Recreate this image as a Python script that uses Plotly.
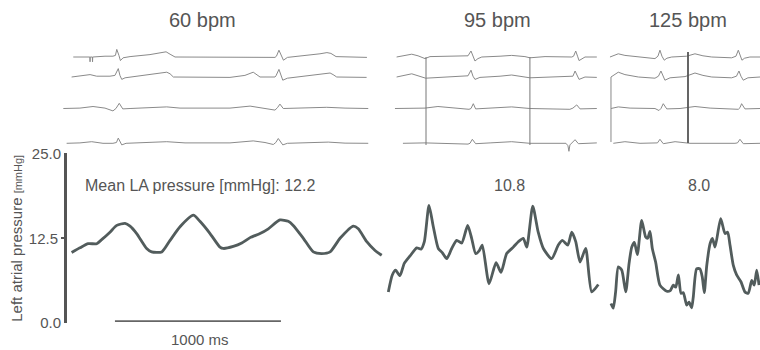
import plotly.graph_objects as go

# ---------------- data (ms, mmHg, mV) ----------------
heart_rates_bpm = [60, 95, 125]
mean_la_pressure = [12.2, 10.8, 8.0]

# Left atrial pressure traces (time in ms from panel start, mmHg)
p1_t = [70, 120, 170, 221, 251, 301, 342, 392, 422, 462, 522, 552, 613, 663, 723, 803, 843, 904, 964, 984,
        1044, 1095, 1145, 1205, 1255, 1325, 1375, 1405, 1466, 1526, 1576, 1627, 1687, 1767, 1797, 1848, 1898, 1938]
p1_p = [10.4, 11.1, 11.7, 11.7, 12.3, 13.4, 14.4, 14.7, 14.3, 13.2, 11.0, 10.5, 10.5, 12.2, 14.2, 15.9, 15.0, 13.2, 11.2, 11.0,
        11.3, 11.8, 12.6, 13.2, 13.9, 15.2, 15.0, 14.4, 12.5, 10.5, 10.25, 10.5, 12.5, 14.3, 13.9, 12.0, 10.7, 10.0]

p2_t = [20, 44, 64, 90, 116, 151, 191, 217, 237, 265, 291, 321, 345, 372, 402, 432, 462, 498, 522, 546,
        568, 586, 627, 669, 699, 733, 773, 803, 833, 854, 890, 923, 954, 1004, 1044, 1068, 1101, 1125, 1149, 1175,
        1209, 1245, 1285]
p2_p = [4.6, 7.1, 7.8, 7.0, 8.8, 9.9, 11.1, 10.9, 12.0, 17.35, 14.2, 11.0, 10.4, 9.5, 11.0, 12.2, 11.8, 14.4, 12.5, 10.25,
        10.7, 11.5, 5.8, 8.9, 7.5, 10.25, 11.2, 12.0, 12.5, 11.2, 17.25, 13.4, 11.0, 9.5, 11.5, 12.2, 11.5, 13.4, 12.0, 9.0,
        11.0, 4.6, 5.7]

p3_t = [36, 50, 64, 80, 101, 125, 145, 161, 177, 195, 221, 245, 257, 271, 285, 305, 331, 372, 393, 411,
        426, 442, 458, 472, 492, 506, 522, 532, 552, 572, 586, 598, 613, 633, 647, 663, 697, 723, 739, 753,
        773, 793, 819, 843, 863, 884, 899, 914, 928]
p3_p = [2.9, 2.2, 4.6, 8.3, 7.8, 4.6, 8.8, 11.2, 11.9, 10.1, 15.15, 12.7, 12.5, 13.5, 11.0, 9.0, 5.6, 4.7, 4.8, 5.6,
        5.3, 7.1, 4.4, 4.5, 2.65, 3.1, 2.25, 3.9, 8.0, 8.0, 6.8, 4.5, 8.5, 11.7, 12.5, 11.2, 15.4, 13.2, 13.4, 11.5,
        8.5, 7.1, 6.1, 4.6, 4.4, 6.3, 5.6, 7.8, 5.6]

# ECG leads (time in ms from panel start, mV)
p1_l1_t = [80, 151, 180, 181, 182, 195, 196, 197, 271, 319, 334, 342, 355, 364, 380, 422, 542, 614, 639, 663, 693,
           1295, 1304, 1319, 1334, 1346, 1370, 1446, 1566, 1608, 1632, 1663, 1849]
p1_l1_v = [0, 0.05, 0, -0.6, 0, 0, -0.6, 0, 0.1, 0.1, 0.2, 0.95, 0.2, -0.45, -0.1, 0.05, 0.3, 0.6, 0.65, 0.35, 0,
           -0.05, 0.1, 0.85, 0.1, -0.4, -0.05, 0.1, 0.4, 0.55, 0.45, 0.05, -0.05]
p1_l2_t = [70, 120, 181, 221, 301, 331, 351, 361, 372, 392, 482, 602, 643, 663, 683, 1024, 1114, 1164, 1205, 1295,
           1301, 1319, 1331, 1342, 1370, 1446, 1566, 1627, 1645, 1667, 1847]
p1_l2_v = [0, 0.1, 0.3, 0.1, 0.1, 0.2, 1.05, 0.2, -0.3, -0.1, 0.15, 0.45, 0.6, 0.4, 0, -0.05, 0.2, 0.6, 0, 0,
           0.15, 0.95, 0.1, -0.4, -0.15, 0.05, 0.35, 0.5, 0.3, 0, -0.05]
p1_l3_t = [20, 120, 199, 271, 319, 337, 357, 378, 422, 542, 643, 723, 1024, 1145, 1217, 1295, 1310, 1325, 1345, 1446,
           1607, 1717, 1857]
p1_l3_v = [0, 0.05, 0.25, 0.05, -0.3, 0, 0.65, -0.05, 0, 0.1, 0.2, 0.05, 0.05, 0.3, 0.1, -0.2, 0.1, 0.55, 0, 0.05,
           0.15, 0.05, 0]
p1_l4_t = [40, 120, 191, 259, 319, 340, 351, 372, 398, 512, 643, 753, 1024, 1164, 1235, 1285, 1300, 1315, 1342, 1370,
           1616, 1717, 1857]
p1_l4_v = [0, 0.05, 0.2, 0, 0, 0.1, 0.65, -0.2, 0, 0.05, 0.2, 0.05, 0.05, 0.3, 0.1, -0.15, 0.1, 0.6, -0.2, 0,
           0.15, 0.02, 0]

p2_l1_t = [70, 161, 199, 241, 271, 392, 482, 500, 518, 530, 542, 560, 583, 693, 763, 843, 873, 964, 1125, 1136,
           1149, 1160, 1169, 1205, 1276]
p2_l1_v = [0, 0.35, 0.15, -0.2, 0.05, 0.1, 0.05, 0.15, 0.75, 0.1, -0.5, -0.2, 0, 0.1, 0.2, 0.05, -0.1, 0.05, 0, 0.1,
           0.75, 0.1, -0.45, 0, 0]
p2_l2_t = [70, 161, 245, 392, 500, 518, 530, 542, 572, 693, 763, 873, 994, 1132, 1145, 1157, 1169, 1205, 1276]
p2_l2_v = [0, 0.4, -0.15, 0.05, 0.15, 0.85, 0.1, -0.3, -0.05, 0.1, 0.25, -0.1, 0, 0.1, 0.75, 0.1, -0.3, 0, -0.05]
p2_l3_t = [60, 241, 319, 422, 506, 518, 532, 546, 633, 763, 873, 1114, 1132, 1155, 1175, 1276]
p2_l3_v = [0, 0.05, 0.25, 0.05, -0.1, 0, 0.6, -0.05, 0.05, 0.2, 0, -0.1, 0.05, 0.45, -0.05, 0]
p2_l4_t = [108, 241, 500, 512, 526, 546, 633, 763, 873, 1090, 1102, 1108, 1114, 1126, 1145, 1165, 1276]
p2_l4_v = [0, 0.05, -0.1, 0, 0.5, -0.05, 0.05, 0.2, 0, 0, -0.3, -1.0, -0.2, 0.05, 0.45, -0.05, 0.05]

p3_l1_t = [30, 80, 120, 201, 301, 319, 331, 343, 357, 373, 402, 492, 542, 590, 643, 763, 789, 803, 815, 825,
           841, 873, 934]
p3_l1_v = [0, 0.4, 0.2, 0, -0.2, 0.1, 0.85, 0.1, -0.4, -0.15, 0, 0.1, 0.4, 0.15, 0, -0.1, 0.1, 0.85, 0.1, -0.4,
           -0.15, 0, 0]
p3_l2_t = [36, 80, 120, 201, 301, 322, 337, 349, 361, 392, 482, 542, 590, 643, 763, 792, 807, 819, 833, 861, 934]
p3_l2_v = [0, 0.6, 0.3, 0, -0.15, 0.1, 0.75, 0.1, -0.4, -0.1, 0.05, 0.5, 0.2, 0, -0.1, 0.1, 0.75, 0.1, -0.4, -0.1, 0]
p3_l3_t = [36, 80, 151, 301, 325, 337, 351, 372, 452, 542, 633, 783, 803, 813, 823, 843, 934]
p3_l3_v = [0, 0.2, 0.05, 0, -0.25, 0, 0.6, -0.05, 0, 0.25, 0.05, 0, -0.1, 0.1, 0.6, -0.05, 0]
p3_l4_t = [50, 120, 211, 301, 316, 331, 351, 422, 512, 783, 798, 813, 833, 934]
p3_l4_v = [0, 0.2, 0, 0, 0.05, 0.5, -0.05, 0.2, 0, 0, 0.05, 0.5, -0.05, 0]

# pacing artefacts (ms from panel start)
p2_pace_ms = [247, 873]
p3_pace_ms = [36, 500]

scale_bar_start_ms = 331
scale_bar_len_ms = 1000
pressure_ticks = [0.0, 12.5, 25.0]

# ---------------- layout helpers ----------------
W, H = 760, 350
MS_PER_PX = 1000 / 166.0
PANEL_PX = [(60, 390), (385, 605), (605, 760)]
LEAD_BASE_PX = [57, 77, 108.5, 143.3]
LEAD_HALF_PX = 16
MV_PX = 8.0
P_TOP_PX, P_BOT_PX = 153.3, 323.3
AXIS_X_PX = 65
P_RANGE = [-0.02, 25.02]

TXT = "#555555"
PCOL = "#525c5c"
ECOL = "#8a8a8a"
FONT = "Liberation Sans, Arial, sans-serif"


def fx(px):
    return px / W


def fy(px):
    return 1 - px / H


fig = go.Figure()

xnames = ["x", "x2", "x3"]
ynames_lead = ["y2", "y3", "y4", "y5"]

ecg = [
    [(p1_l1_t, p1_l1_v), (p1_l2_t, p1_l2_v), (p1_l3_t, p1_l3_v), (p1_l4_t, p1_l4_v)],
    [(p2_l1_t, p2_l1_v), (p2_l2_t, p2_l2_v), (p2_l3_t, p2_l3_v), (p2_l4_t, p2_l4_v)],
    [(p3_l1_t, p3_l1_v), (p3_l2_t, p3_l2_v), (p3_l3_t, p3_l3_v), (p3_l4_t, p3_l4_v)],
]
for i, panel in enumerate(ecg):
    for j, (t, v) in enumerate(panel):
        fig.add_trace(go.Scatter(x=t, y=v, xaxis=xnames[i], yaxis=ynames_lead[j], mode="lines",
                                 line=dict(color=ECOL, width=1), hoverinfo="skip", showlegend=False))

pressure = [(p1_t, p1_p), (p2_t, p2_p), (p3_t, p3_p)]
for i, (t, p) in enumerate(pressure):
    fig.add_trace(go.Scatter(x=t, y=p, xaxis=xnames[i], yaxis="y", mode="lines",
                             line=dict(color=PCOL, width=2.8, shape="spline", smoothing=0.6),
                             showlegend=False))

# invisible trace that carries the 12.5 tick axis
fig.add_trace(go.Scatter(x=[p1_t[0]], y=[pressure_ticks[1]], xaxis="x", yaxis="y6", mode="lines",
                         line=dict(width=0), hoverinfo="skip", showlegend=False))

# scale bar
fig.add_trace(go.Scatter(x=[scale_bar_start_ms, scale_bar_start_ms + scale_bar_len_ms], y=[0.3, 0.3],
                         xaxis="x", yaxis="y", mode="lines", line=dict(color="#666666", width=1.6),
                         hoverinfo="skip", showlegend=False))

layout = dict(
    width=W, height=H, margin=dict(l=0, r=0, t=0, b=0, pad=0, autoexpand=False),
    autosize=False,
    paper_bgcolor="white", plot_bgcolor="rgba(0,0,0,0)",
    font=dict(family=FONT, color=TXT),
    showlegend=False,
)
for i, (a, b) in enumerate(PANEL_PX):
    key = "xaxis" if i == 0 else f"xaxis{i + 1}"
    layout[key] = dict(domain=[fx(a), fx(b)], range=[0, (b - a) * MS_PER_PX], visible=False,
                       anchor="y", fixedrange=True, automargin=False)

for j, base in enumerate(LEAD_BASE_PX):
    half_mv = LEAD_HALF_PX / MV_PX
    layout[f"yaxis{j + 2}"] = dict(domain=[fy(base + LEAD_HALF_PX), fy(base - LEAD_HALF_PX)],
                                   range=[-half_mv, half_mv], visible=False, anchor="x", automargin=False)

layout["yaxis"] = dict(
    domain=[fy(P_BOT_PX), fy(P_TOP_PX)], range=P_RANGE, anchor="free", position=fx(AXIS_X_PX),
    automargin=False,
    showline=True, linewidth=3, linecolor=TXT, showgrid=False, zeroline=False,
    ticks="inside", ticklen=6, tickwidth=2, tickcolor=TXT,
    tickvals=[pressure_ticks[0], pressure_ticks[2]],
    ticktext=[f"{v:.1f}" for v in (pressure_ticks[0], pressure_ticks[2])],
    tickfont=dict(size=15, color=TXT, family=FONT),
    title=dict(text="Left atrial pressure <span style='font-size:11px'>[mmHg]</span>",
               font=dict(size=15, color=TXT, family=FONT), standoff=4),
)
layout["yaxis6"] = dict(
    overlaying="y", range=P_RANGE, anchor="free", position=fx(AXIS_X_PX), automargin=False,
    showline=False, showgrid=False, zeroline=False,
    ticks="outside", ticklen=4, tickwidth=2, tickcolor=TXT,
    tickvals=[pressure_ticks[1]], ticktext=[f"{pressure_ticks[1]:.1f}"],
    tickfont=dict(size=15, color=TXT, family=FONT),
)
fig.update_layout(**layout)

# pacing artefact lines
for xa, times, spans, widths, cols in [
    ("x2", p2_pace_ms, [(57, 145), (57, 145)], [1, 1], ["#777777", "#777777"]),
    ("x3", p3_pace_ms, [(77, 142), (52, 143)], [1, 1.8], ["#888888", "#555555"]),
]:
    for t, (top, bot), w, c in zip(times, spans, widths, cols):
        fig.add_shape(type="line", xref=xa, yref="paper", x0=t, x1=t, y0=fy(bot), y1=fy(top),
                      line=dict(color=c, width=w))

# titles
title_px = [202, 497, 688]
for bpm, cx in zip(heart_rates_bpm, title_px):
    fig.add_annotation(text=f"{bpm} bpm", x=fx(cx), y=fy(20), xref="paper", yref="paper",
                       showarrow=False, xanchor="center", yanchor="middle",
                       font=dict(size=20, color=TXT, family=FONT))

# mean pressure texts
mean_pos = [(83, "left"), (509.5, "center"), (699, "center")]
for k, (m, (cx, anc)) in enumerate(zip(mean_la_pressure, mean_pos)):
    txt = f"Mean LA pressure [mmHg]: {m:.1f}" if k == 0 else f"{m:.1f}"
    fig.add_annotation(text=txt, x=fx(cx), y=fy(185), xref="paper", yref="paper",
                       showarrow=False, xanchor=anc, yanchor="middle",
                       font=dict(size=16, color=TXT, family=FONT))

fig.add_annotation(text=f"{scale_bar_len_ms} ms", x=fx(199.5), y=fy(339), xref="paper", yref="paper",
                   showarrow=False, xanchor="center", yanchor="middle",
                   font=dict(size=15, color=TXT, family=FONT))

fig.write_html("out.html", config={"displayModeBar": False, "responsive": False},
               post_script="document.body.style.margin='0';document.body.style.padding='0';")
